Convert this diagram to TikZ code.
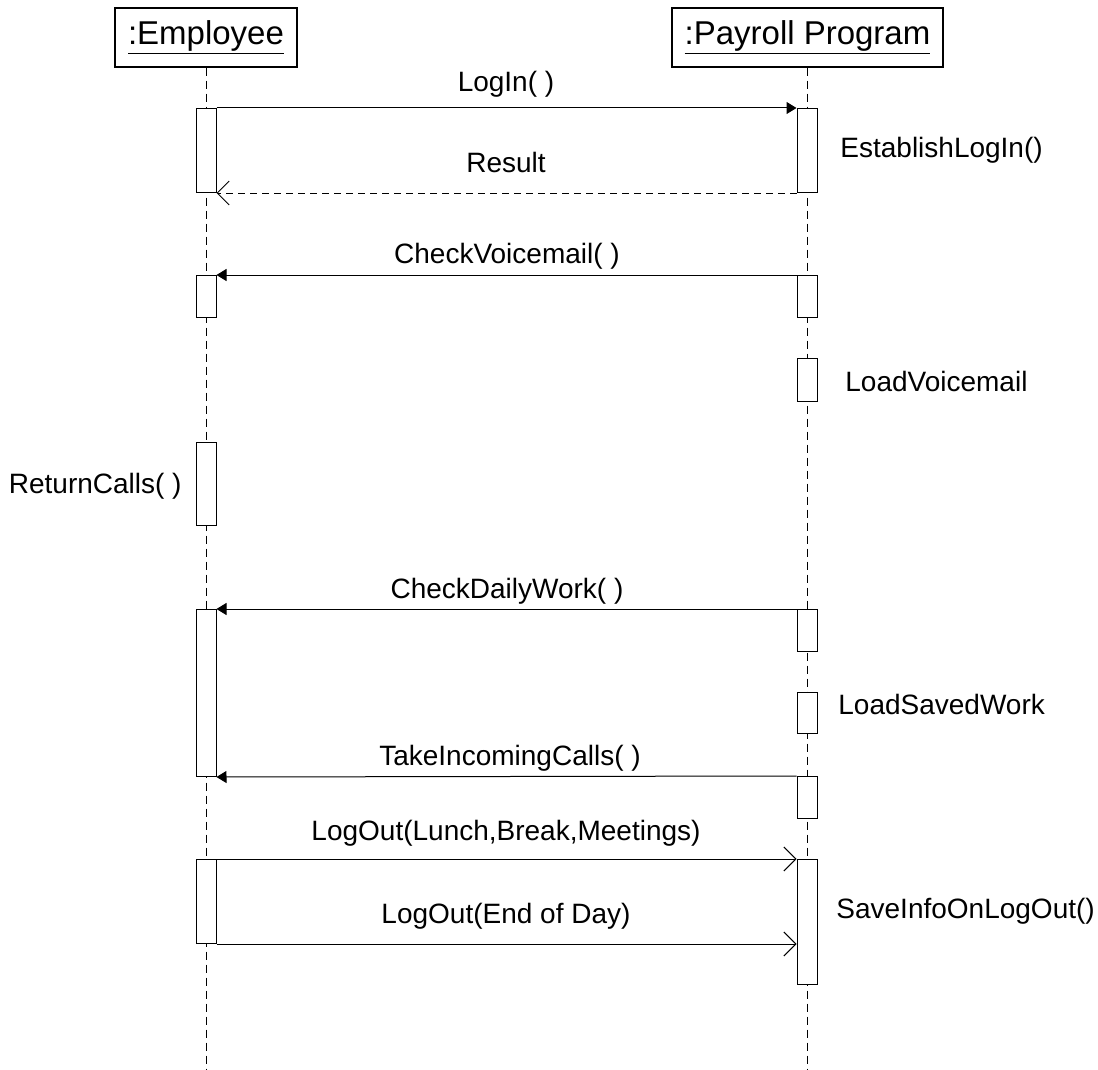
\documentclass[tikz,border=0pt]{standalone}
\usepackage{fontspec}
\setmainfont{Liberation Sans}
\usetikzlibrary{arrows.meta}
\begin{document}
\begin{tikzpicture}[x=0.5pt,y=-0.5pt,
  obj/.style={draw, line width=0.6pt, inner sep=0pt, minimum height=29.5pt, font=\fontsize{16.5}{20}\selectfont},
  life/.style={line width=0.5pt, dash pattern=on 4pt off 2.5pt},
  act/.style={draw, fill=white, line width=0.5pt, inner sep=0pt, minimum width=10pt, anchor=north},
  lbl/.style={inner sep=0pt, font=\fontsize{14}{17}\selectfont, text height=10pt, text depth=0pt},
  call/.style={line width=0.5pt, -{Triangle[length=5pt,width=6pt]}},
  ret/.style={line width=0.5pt, dash pattern=on 3.5pt off 2.5pt, -{Straight Barb[length=6pt,width=12pt,line width=0.5pt]}},
  async/.style={line width=0.5pt, -{Straight Barb[length=6pt,width=12pt,line width=0.5pt]}}]
\useasboundingbox (0,0) rectangle (1098,1070);
% objects
\node[obj, minimum width=91pt] (emp) at (206,37.5) {\underline{:Employee}};
\node[obj, minimum width=135.5pt] (pay) at (807.5,37.5) {\underline{:Payroll Program}};
\coordinate (empend) at (206,1070);
\coordinate (payend) at (807,1070);
\draw[life] (emp.south) -- (empend);
\draw[life] (pay.south -| payend) -- (payend);
% activation boxes
\node[act, minimum height=42pt] (ea1) at (206,108) {};
\node[act, minimum height=42pt] (pa1) at (807,108) {};
\node[act, minimum height=21pt] (ea2) at (206,275) {};
\node[act, minimum height=21pt] (pa2) at (807,275) {};
\node[act, minimum height=21.5pt] (pa3) at (807,358) {};
\node[act, minimum height=41.5pt] (ea3) at (206,442) {};
\node[act, minimum height=83.5pt] (ea4) at (206,609) {};
\node[act, minimum height=21pt] (pa4) at (807,609) {};
\node[act, minimum height=20.5pt] (pa5) at (807,692) {};
\node[act, minimum height=21pt] (pa6) at (807,776) {};
\node[act, minimum height=42pt] (ea5) at (206,859) {};
\node[act, minimum height=62.5pt] (pa7) at (807,859) {};
% messages
\draw[call] (ea1.north east) -- (pa1.north west);
\draw[ret] (pa1.south west) -- (ea1.south east);
\draw[call] (pa2.north west) -- (ea2.north east);
\draw[call] (pa4.north west) -- (ea4.north east);
\draw[call] (pa6.north west) -- (ea4.south east);
\draw[async] (ea5.north east) -- (pa7.north west);
\draw[async] (ea5.south east) -- (pa7.west |- ea5.south);
% labels
\node[lbl] (l1) at (506,82) {LogIn( )};
\node[lbl] (l2) at (506,163) {Result};
\node[lbl, anchor=west] (l3) at (840,148) {EstablishLogIn()};
\node[lbl] (l4) at (507,253) {CheckVoicemail( )};
\node[lbl, anchor=west] (l5) at (845,381) {LoadVoicemail};
\node[lbl, anchor=east] (l6) at (182,483) {ReturnCalls( )};
\node[lbl] (l7) at (507,588) {CheckDailyWork( )};
\node[lbl, anchor=west] (l8) at (838,704) {LoadSavedWork};
\node[lbl] (l9) at (510,755) {TakeIncomingCalls( )};
\node[lbl] (l10) at (506,830) {LogOut(Lunch,Break,Meetings)};
\node[lbl] (l11) at (506,913) {LogOut(End of Day)};
\node[lbl, anchor=west] (l12) at (836,908) {SaveInfoOnLogOut()};
\end{tikzpicture}
\end{document}
